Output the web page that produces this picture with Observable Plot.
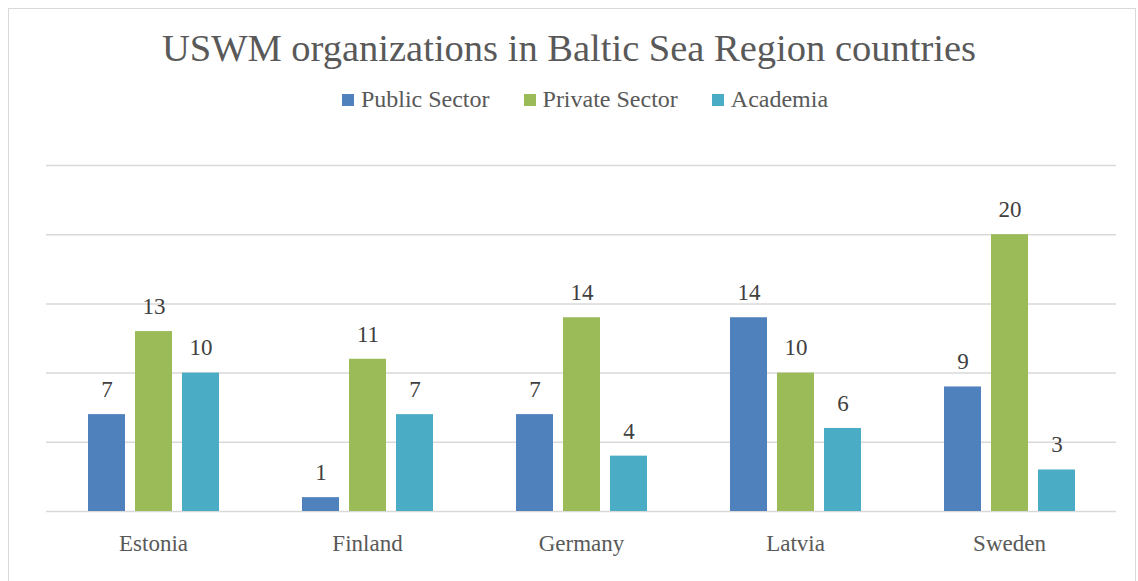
<!DOCTYPE html>
<html>
<head>
<meta charset="utf-8">
<script src="https://cdn.jsdelivr.net/npm/d3@7"></script>
<script src="https://cdn.jsdelivr.net/npm/@observablehq/plot@0.6"></script>
<style>
  body { margin: 0; background: #fff; font-family: "Liberation Serif", serif; }
  #wrap { position: relative; width: 1138px; height: 581px; overflow: hidden; }
  #frame { position: absolute; left: 8px; top: 8px; width: 1128px; height: 590px; border: 1px solid #d9d9d9; box-sizing: border-box; }
  #title { position: absolute; left: 0; width: 1138px; top: 26px; text-align: center; font-size: 38.5px; color: #595959; }
  #legend { position: absolute; left: 16px; width: 1138px; top: 86px; text-align: center; font-size: 24px; color: #595959; }
  #legend span.item { margin: 0 17px; }
  #legend span.sw { display: inline-block; width: 12px; height: 12px; margin-right: 7px; vertical-align: 1px; }
  #chart { position: absolute; left: 0; top: 0; }
</style>
</head>
<body>
<div id="wrap">
  <div id="frame"></div>
  <div id="chart"></div>
  <div id="title">USWM organizations in Baltic Sea Region countries</div>
  <div id="legend"></div>
</div>
<script>
const countries = ["Estonia", "Finland", "Germany", "Latvia", "Sweden"];
const series = ["Public Sector", "Private Sector", "Academia"];
const publicSector = [7, 1, 7, 14, 9];
const privateSector = [13, 11, 14, 10, 20];
const academia = [10, 7, 4, 6, 3];
const colors = ["#4f81bd", "#9bbb59", "#4bacc6"];
const yTicks = [0, 5, 10, 15, 20, 25];

const valuesBySeries = [publicSector, privateSector, academia];
const data = [];
countries.forEach((c, i) => {
  series.forEach((s, j) => data.push({country: c, series: s, value: valuesBySeries[j][i]}));
});

const legend = document.getElementById("legend");
legend.innerHTML = series.map((s, j) =>
  `<span class="item"><span class="sw" style="background:${colors[j]}"></span>${s}</span>`).join("");

const chart = Plot.plot({
  width: 1138,
  height: 581,
  marginTop: 165,
  marginBottom: 70,
  marginLeft: 46,
  marginRight: 22,
  style: {fontFamily: "Liberation Serif, serif", background: "transparent"},
  fx: {domain: countries, padding: 0, label: null},
  x: {domain: series, paddingInner: 0.213, paddingOuter: 0.88, axis: null},
  y: {domain: [0, 25], axis: null},
  color: {domain: series, range: colors},
  marks: [
    Plot.gridY(yTicks, {stroke: "#d9d9d9", strokeOpacity: 1, strokeWidth: 1.5}),
    Plot.barY(data, {fx: "country", x: "series", y: "value", fill: "series"}),
    Plot.text(data, {fx: "country", x: "series", y: "value", text: d => String(d.value),
      dy: -25, fontSize: 23, fill: "#404040"}),
    Plot.axisFx({anchor: "bottom", tickSize: 0, tickPadding: 0, fontSize: 23, dy: 23, color: "#595959", label: null})
  ]
});
document.getElementById("chart").appendChild(chart);
</script>
</body>
</html>
